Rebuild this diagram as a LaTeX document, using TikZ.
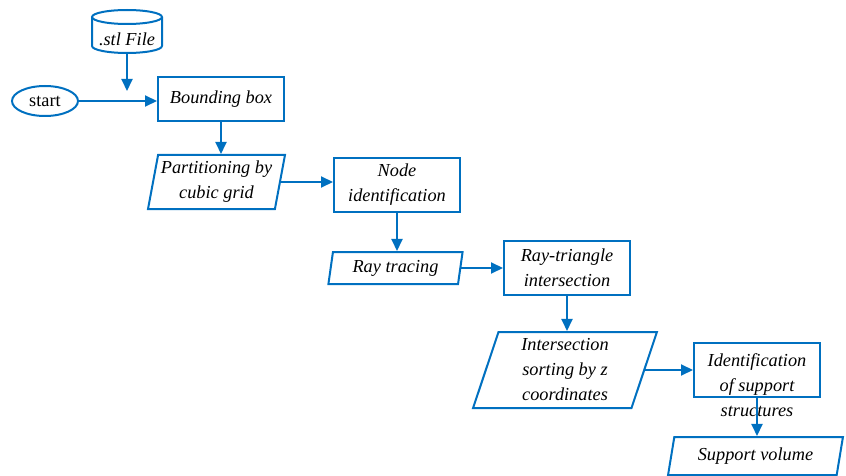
\documentclass[tikz,border=0pt]{standalone}
\usepackage{fontspec}
\setmainfont{Liberation Serif}
\usetikzlibrary{shapes.geometric,arrows.meta,calc}
\definecolor{fc}{HTML}{0070C0}
\begin{document}
\begin{tikzpicture}[x=1pt,y=-1pt,
  every node/.style={font=\fontsize{18.3}{25}\selectfont\itshape, text=black},
  box/.style={draw=fc, line width=2pt, rectangle, inner sep=0pt, align=center},
  para/.style={draw=fc, line width=2pt, trapezium, trapezium stretches=true, inner sep=0pt, align=center},
  arr/.style={draw=fc, line width=2pt, -{Triangle[length=12pt,width=11pt]}},
  ln/.style={draw=fc, line width=2pt}
]
\useasboundingbox (0,0) rectangle (846,476);

% cylinder
\draw[ln] (92,17) -- (92,46) arc[start angle=180, end angle=360, x radius=35, y radius=-7] -- (162,17);
\draw[ln] (127,17) ellipse[x radius=35, y radius=7];
\node (stl) at (127,39) {.stl File};
\coordinate (stlb) at (127,53);
\coordinate (j) at (127,91);

\node[draw=fc, line width=2pt, ellipse, minimum width=66pt, minimum height=30pt, inner sep=0pt, font=\fontsize{18.3}{25}\selectfont\upshape] (start) at (45,101) {start};

\node[box, minimum width=126pt, minimum height=44pt] (bb) at (221,99) {Bounding box};
\node[para, minimum width=137pt, minimum height=54pt, trapezium left angle=77, trapezium right angle=103] (part) at (216.5,182) {Partitioning by\\cubic grid};
\node[box, minimum width=126pt, minimum height=54pt] (nid) at (397,185) {Node\\identification};
\node[para, minimum width=135pt, minimum height=32pt, trapezium left angle=79, trapezium right angle=101] (ray) at (395.5,268) {Ray tracing};
\node[box, minimum width=126pt, minimum height=54pt] (rt) at (567,268) {Ray-triangle\\intersection};
\node[para, minimum width=184pt, minimum height=76pt, trapezium left angle=75, trapezium right angle=105] (inter) at (565,370) {Intersection\\sorting by z\\coordinates};
\node[box, minimum width=126pt, minimum height=54pt] (ident) at (757,370) {};
\node (identtxt) at (757,385) [align=center] {Identification\\of support\\structures};
\node[para, minimum width=175pt, minimum height=38pt, trapezium left angle=75, trapezium right angle=105] (sv) at (755.5,456) {Support volume};

\draw[arr] (stlb) -- (j);
\draw[arr] (start.east) -- (start.east -| bb.west);
\draw[arr] (bb.south) -- (bb.south |- part.north);
\draw[arr] (part.east) -- (part.east -| nid.west);
\draw[arr] (nid.south) -- (nid.south |- ray.north);
\draw[arr] (ray.east) -- (ray.east -| rt.west);
\draw[arr] (rt.south) -- (rt.south |- inter.north);
\draw[arr] (inter.east) -- (inter.east -| ident.west);
\draw[arr] (ident.south) -- (ident.south |- sv.north);
\end{tikzpicture}
\end{document}
